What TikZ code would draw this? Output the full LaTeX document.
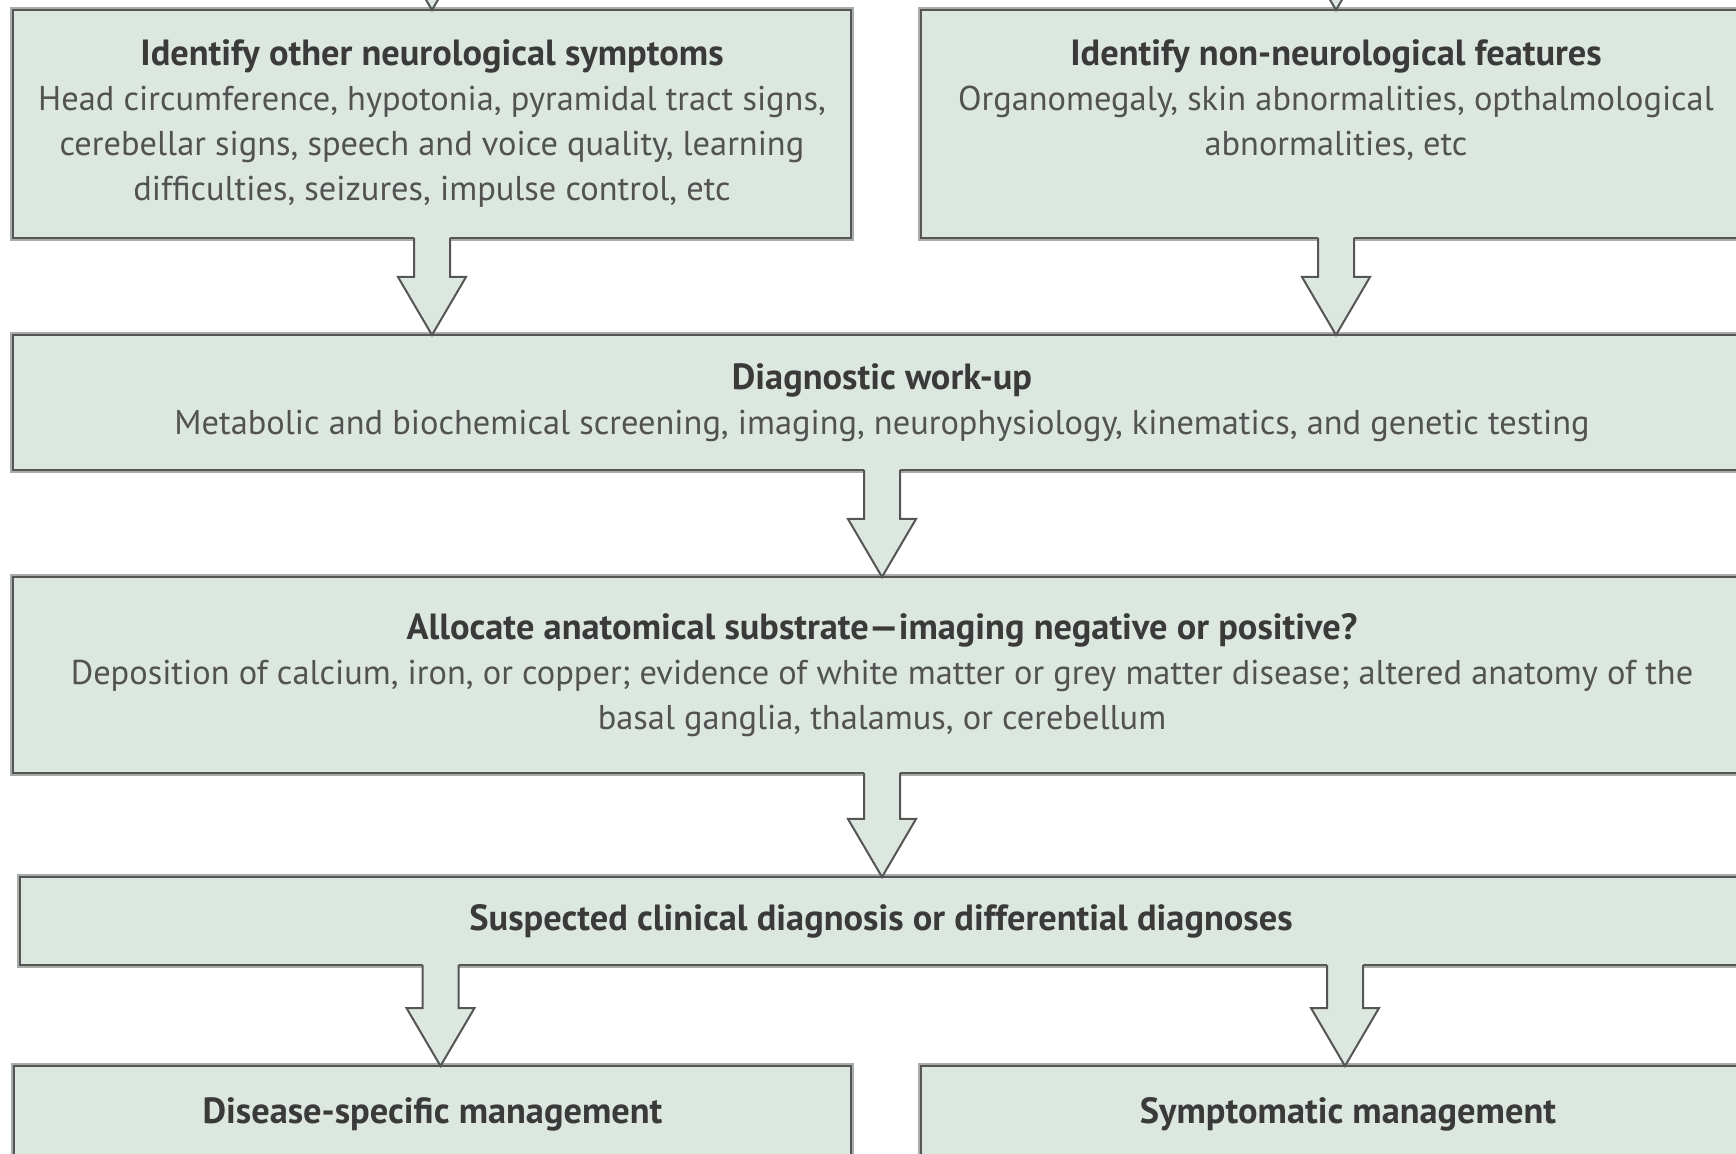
\documentclass[tikz,border=0pt]{standalone}
\usepackage{fontspec}
\setmainfont{PT Sans}
\usepackage{xcolor}
\usepackage{tikz}
\usetikzlibrary{calc, positioning}

\definecolor{boxfill}{HTML}{DCE7DF}
\definecolor{boxline}{HTML}{555555}
\definecolor{boxhalo}{HTML}{A8ADAA}
\definecolor{bodytext}{HTML}{525252}
\definecolor{titletext}{HTML}{3A3A3A}

\newcommand{\boxtitle}[1]{{\fontsize{18.2}{22.5}\selectfont\bfseries\color{titletext}#1}}
\newcommand{\bigarrow}[2]{%
    \path[arrowfill] let \p1=(#1), \p2=(#2) in
        (\x2-9pt,\y1+3pt) -- (\x2-9pt,\y2+29pt) -- (\x2-17pt,\y2+29pt) -- (\x2,\y2)
        -- (\x2+17pt,\y2+29pt) -- (\x2+9pt,\y2+29pt) -- (\x2+9pt,\y1+3pt) -- cycle;
    \draw[arrowline] let \p1=(#1), \p2=(#2) in
        (\x2-9pt,\y1) -- (\x2-9pt,\y2+29pt) -- (\x2-17pt,\y2+29pt) -- (\x2,\y2)
        -- (\x2+17pt,\y2+29pt) -- (\x2+9pt,\y2+29pt) -- (\x2+9pt,\y1);
}

\begin{document}
\begin{tikzpicture}[x=0.5pt, y=-0.5pt,
    box/.style={rectangle, draw=boxline, line width=1.2pt, fill=boxfill,
        preaction={draw=boxhalo, line width=3pt},
        anchor=north west, inner sep=0pt, outer sep=0pt, align=center,
        text=bodytext, font=\fontsize{17.2}{22.5}\selectfont},
    arrowfill/.style={fill=boxfill},
    arrowline/.style={draw=boxline, line width=1pt, line join=miter}]
    \useasboundingbox (0,0) rectangle (1736,1154);
    \clip (0,0) rectangle (1736,1154);

    \node[box, minimum width=419pt, minimum height=114pt] (othersigns) at (13,10)
        {\boxtitle{Identify other neurological symptoms}\\
        Head circumference, hypotonia, pyramidal tract signs,\\
        cerebellar signs, speech and voice quality, learning\\
        difficulties, seizures, impulse control, etc};
    \node[box, minimum width=415pt, minimum height=114pt] (nonneuro) at (921,10)
        {\boxtitle{Identify non-neurological features}\\
        Organomegaly, skin abnormalities, opthalmological\\
        abnormalities, etc\\ \vphantom{p}};
    \node[box, minimum width=869pt, minimum height=67.5pt] (workup) at (13,335)
        {\boxtitle{Diagnostic work-up}\\
        Metabolic and biochemical screening, imaging, neurophysiology, kinematics, and genetic testing};
    \node[box, minimum width=869pt, minimum height=98pt] (substrate) at (13,577)
        {\boxtitle{Allocate anatomical substrate---imaging negative or positive?}\\
        Deposition of calcium, iron, or copper; evidence of white matter or grey matter disease; altered anatomy of the\\
        basal ganglia, thalamus, or cerebellum};
    \node[box, minimum width=861pt, minimum height=44pt] (diagnosis) at (20,877)
        {\boxtitle{Suspected clinical diagnosis or differential diagnoses}};
    \node[box, minimum width=418.5pt, minimum height=48pt] (specific) at (14,1066)
        {\boxtitle{Disease-specific management}};
    \node[box, minimum width=427pt, minimum height=48pt] (symptomatic) at (921,1066)
        {\boxtitle{Symptomatic management}};

    \coordinate (fromabove1) at (432,-120);
    \coordinate (fromabove2) at (1335,-120);

    \bigarrow{fromabove1}{othersigns.north}
    \bigarrow{fromabove2}{nonneuro.north}
    \bigarrow{othersigns.south}{othersigns.south |- workup.north}
    \bigarrow{nonneuro.south}{nonneuro.south |- workup.north}
    \bigarrow{workup.south}{workup.south |- substrate.north}
    \bigarrow{substrate.south}{substrate.south |- diagnosis.north}
    \bigarrow{diagnosis.south}{[xshift=4pt]specific.north}
    \bigarrow{diagnosis.south}{[xshift=-1.5pt]symptomatic.north}
\end{tikzpicture}
\end{document}
